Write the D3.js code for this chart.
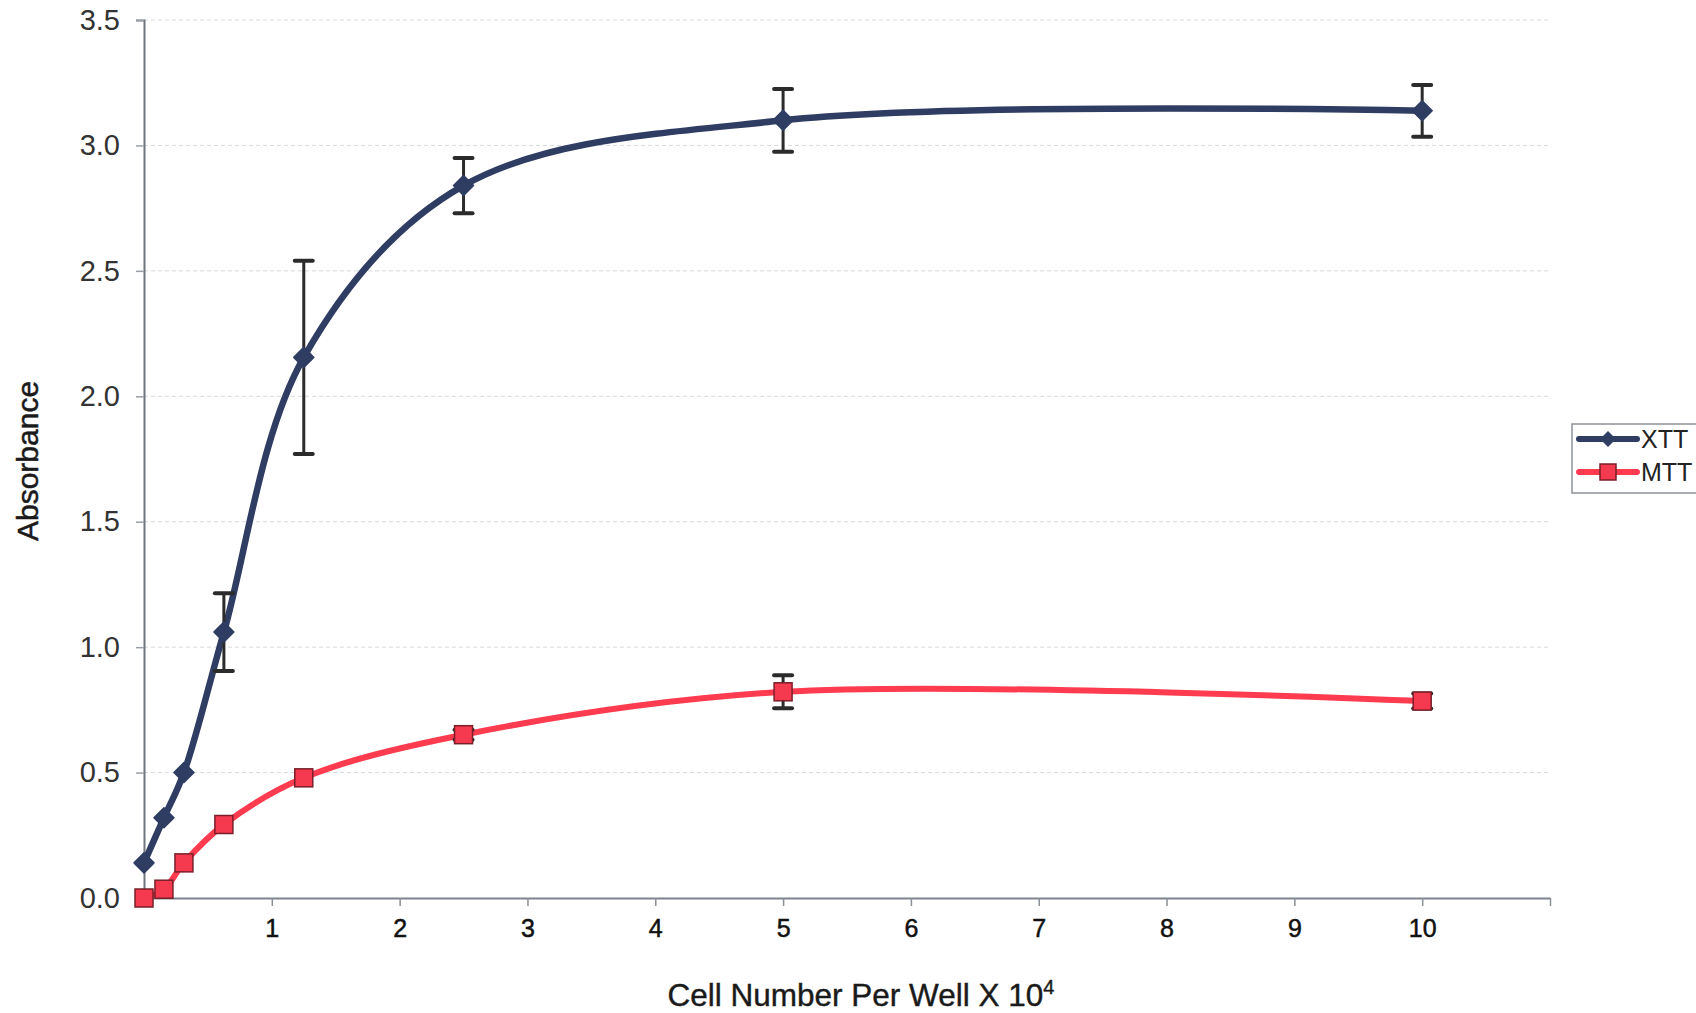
<!DOCTYPE html>
<html>
<head>
<meta charset="utf-8">
<script src="https://cdn.jsdelivr.net/npm/d3@7"></script>
<style>
  html, body { margin: 0; padding: 0; background: #fff; }
  svg { display: block; font-family: "Liberation Sans", Arial, sans-serif; }
</style>
</head>
<body>
<svg id="chart" width="1696" height="1013"></svg>
<script>
// ---- data ----
const cellNumbers = [0, 0.156, 0.3125, 0.625, 1.25, 2.5, 5, 10];
const xttValues = [0.14, 0.32, 0.50, 1.06, 2.155, 2.84, 3.10, 3.138];
const xttErrors = [0, 0, 0, 0.155, 0.385, 0.11, 0.125, 0.103];
const mttValues = [0.00, 0.035, 0.14, 0.293, 0.479, 0.651, 0.822, 0.785];
const mttErrors = [0, 0, 0, 0, 0, 0.02, 0.066, 0.03];
const xTickValues = [1, 2, 3, 4, 5, 6, 7, 8, 9, 10, 11];
const xTickLabels = ["1", "2", "3", "4", "5", "6", "7", "8", "9", "10", ""];
const yTickValues = [0, 0.5, 1, 1.5, 2, 2.5, 3, 3.5];
const seriesNames = ["XTT", "MTT"];

const svg = d3.select("#chart");
const m = { left: 144, right: 1550, top: 20, bottom: 898 };

const x = d3.scaleLinear().domain([0, 11]).range([m.left, m.right]);
const y = d3.scaleLinear().domain([0, 3.5]).range([m.bottom, m.top]);

// gridlines
svg.append("g").selectAll("line")
  .data(yTickValues.filter(v => v > 0))
  .join("line")
  .attr("x1", x(0)).attr("x2", x(11))
  .attr("y1", d => y(d)).attr("y2", d => y(d))
  .attr("stroke", "#d6dadd").attr("stroke-width", 1)
  .attr("stroke-dasharray", "4,3");

// y axis
const yAxis = d3.axisLeft(y).tickValues(yTickValues).tickFormat(d3.format(".1f")).tickSize(8).tickPadding(16);
const gy = svg.append("g").attr("transform", `translate(${x(0)},0)`).call(yAxis);
gy.select(".domain").attr("stroke", "#6f767e").attr("stroke-width", 2);
gy.selectAll(".tick line").attr("stroke", "#9aa0a6").attr("stroke-width", 1.5);
gy.selectAll(".tick text").attr("font-size", 29).attr("fill", "#333")
  .attr("font-family", "Liberation Sans, Arial, sans-serif");

// x axis
const xAxis = d3.axisBottom(x).tickValues(xTickValues)
  .tickFormat((d, i) => xTickLabels[i]).tickSize(8).tickPadding(13).tickSizeOuter(0);
const gx = svg.append("g").attr("transform", `translate(0,${y(0)})`).call(xAxis);
gx.select(".domain").attr("stroke", "#7d848b").attr("stroke-width", 2);
gx.selectAll(".tick line").attr("stroke", "#8a9097").attr("stroke-width", 1.5);
gx.selectAll(".tick text").attr("font-size", 25).attr("fill", "#111")
  .attr("stroke", "#111").attr("stroke-width", 0.5)
  .attr("font-family", "Liberation Sans, Arial, sans-serif");

// axis titles
const xt = svg.append("text")
  .attr("x", 861).attr("y", 1006)
  .attr("text-anchor", "middle")
  .attr("font-size", 31.5).attr("fill", "#1a1a1a")
  .attr("stroke", "#1a1a1a").attr("stroke-width", 0.4);
xt.append("tspan").text("Cell Number Per Well X 10");
xt.append("tspan").text("4").attr("font-size", 20).attr("dy", -12);

svg.append("text")
  .attr("transform", "translate(38,461) rotate(-90)")
  .attr("text-anchor", "middle")
  .attr("font-size", 30).attr("fill", "#1a1a1a")
  .attr("stroke", "#1a1a1a").attr("stroke-width", 0.5)
  .text("Absorbance");

const line = d3.line().x(d => x(d[0])).y(d => y(d[1])).curve(d3.curveCatmullRom.alpha(0.5));

const xttData = cellNumbers.map((c, i) => [c, xttValues[i], xttErrors[i]]);
const mttData = cellNumbers.map((c, i) => [c, mttValues[i], mttErrors[i]]);

function errorBars(data, color) {
  const g = svg.append("g");
  data.filter(d => d[2] > 0).forEach(d => {
    const cx = x(d[0]);
    g.append("line").attr("x1", cx).attr("x2", cx)
      .attr("y1", y(d[1] + d[2])).attr("y2", y(d[1] - d[2]))
      .attr("stroke", color).attr("stroke-width", 3);
    [d[1] + d[2], d[1] - d[2]].forEach(v => {
      g.append("line").attr("x1", cx - 9).attr("x2", cx + 9)
        .attr("y1", y(v)).attr("y2", y(v))
        .attr("stroke", color).attr("stroke-width", 4).attr("stroke-linecap", "round");
    });
  });
}

// MTT series
svg.append("path").datum(mttData).attr("d", line)
  .attr("fill", "none").attr("stroke", "#ff3b4f").attr("stroke-width", 6);
errorBars(mttData, "#2b2b2b");
svg.append("g").selectAll("rect").data(mttData).join("rect")
  .attr("x", d => x(d[0]) - 9).attr("y", d => y(d[1]) - 9)
  .attr("width", 18).attr("height", 18)
  .attr("fill", "#f5394f").attr("stroke", "#7a1f2a").attr("stroke-width", 1.5);

// XTT series
svg.append("path").datum(xttData).attr("d", line)
  .attr("fill", "none").attr("stroke", "#2f3d62").attr("stroke-width", 6.5);
errorBars(xttData, "#2b2b2b");
const diamond = s => `M0,${-s}L${s},0L0,${s}L${-s},0Z`;
svg.append("g").selectAll("path").data(xttData).join("path")
  .attr("transform", d => `translate(${x(d[0])},${y(d[1])})`)
  .attr("d", diamond(10))
  .attr("fill", "#2f3d62").attr("stroke", "#2f3d62").attr("stroke-width", 1.5)
  .attr("stroke-linejoin", "round");

// legend
const lg = svg.append("g");
lg.append("rect").attr("x", 1572).attr("y", 424).attr("width", 140).attr("height", 69)
  .attr("fill", "#fff").attr("stroke", "#8d9196").attr("stroke-width", 1.5);
const legendItems = [
  { name: seriesNames[0], y: 439, color: "#2f3d62", marker: "diamond" },
  { name: seriesNames[1], y: 472, color: "#ff3b4f", marker: "square" }
];
legendItems.forEach(it => {
  lg.append("line").attr("x1", 1579).attr("x2", 1637).attr("y1", it.y).attr("y2", it.y)
    .attr("stroke", it.color).attr("stroke-width", 6).attr("stroke-linecap", "round");
  if (it.marker === "diamond") {
    lg.append("path").attr("transform", `translate(1608,${it.y})`).attr("d", diamond(8))
      .attr("fill", it.color);
  } else {
    lg.append("rect").attr("x", 1600).attr("y", it.y - 8).attr("width", 16).attr("height", 16)
      .attr("fill", "#f5394f").attr("stroke", "#7a1f2a").attr("stroke-width", 1.5);
  }
  lg.append("text").attr("x", 1641).attr("y", it.y + 9)
    .attr("font-size", 25).attr("fill", "#222").text(it.name);
});
</script>
</body>
</html>
